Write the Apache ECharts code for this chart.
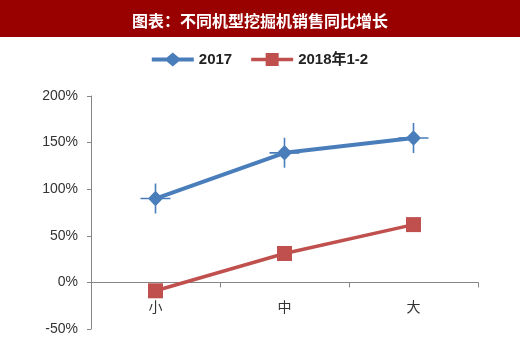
<!DOCTYPE html>
<html><head><meta charset="utf-8">
<script src="https://cdn.jsdelivr.net/npm/echarts@6/dist/echarts.min.js"></script>
<style>html,body{margin:0;padding:0;background:#fff}#c{width:520px;height:348px}</style>
</head><body><div id="c"></div>
<script>
var titleText = '图表：不同机型挖掘机销售同比增长';
var categories = ['小', '中', '大'];
var seriesNames = ['2017', '2018年1-2'];
var values2017 = [90, 139, 155];
var values2018 = [-9, 31, 62];
var yTicks = { min: -50, max: 200, interval: 50 };

var starPath = 'path://M14.2,0L15.8,0L15.8,8L22.5,15L15.8,22L15.8,30L14.2,30L14.2,22L7.5,15L14.2,8Z' +
  'M0,14.2L8.2,14.2L8.2,15.8L0,15.8Z M21.8,14.2L30,14.2L30,15.8L21.8,15.8Z';
var legendBlue = 'path://M0,5L15,5L21,0L27,5L42,5L42,9L27,9L21,14L15,9L0,9Z';
var legendRed = 'path://M0,5.2L14.5,5.2L14.5,0.5L27.5,0.5L27.5,5.2L42,5.2L42,8.8L27.5,8.8L27.5,13.5L14.5,13.5L14.5,8.8L0,8.8Z';

var gridTop = 96, gridBottom = 19, H = 348;
var plotH = H - gridTop - gridBottom;
var zeroOffset = -plotH * (0 - yTicks.min) / (yTicks.max - yTicks.min);

var chart = echarts.init(document.getElementById('c'), null, {renderer: 'canvas'});
chart.setOption({
  animation: false,
  graphic: [
    {type: 'rect', shape: {x: 0, y: 0, width: 520, height: 37}, style: {fill: '#990000'}, z: 0}
  ],
  title: {
    text: titleText, left: 'center', top: 8,
    textStyle: {color: '#fff', fontSize: 16, fontWeight: 'bold', fontFamily: 'Noto Sans CJK SC'}
  },
  legend: {
    top: 47, left: 'center', itemWidth: 42, itemHeight: 14, itemGap: 19,
    textStyle: {fontSize: 15, fontWeight: 'bold', color: '#222', fontFamily: 'Liberation Sans, Noto Sans CJK SC'},
    data: [
      {name: seriesNames[0], icon: legendBlue},
      {name: seriesNames[1], icon: legendRed}
    ]
  },
  grid: {left: 91, right: 42, top: gridTop, bottom: gridBottom, containLabel: false, outerBoundsMode: 'none'},
  xAxis: {
    type: 'category', data: categories,
    offset: zeroOffset,
    axisLine: {onZero: false, lineStyle: {color: '#868686', width: 1}},
    axisTick: {show: true, length: 5, lineStyle: {color: '#868686'}},
    axisLabel: {margin: 17, fontSize: 14, color: '#333', fontFamily: 'Noto Sans CJK SC'}
  },
  yAxis: {
    type: 'value', min: yTicks.min, max: yTicks.max, interval: yTicks.interval,
    axisLine: {show: true, lineStyle: {color: '#868686', width: 1}},
    axisTick: {show: true, length: 4, lineStyle: {color: '#868686'}},
    splitLine: {show: false},
    axisLabel: {formatter: '{value}%', margin: 13, fontSize: 14, color: '#333', fontFamily: 'Liberation Sans'}
  },
  series: [
    {
      name: seriesNames[0], type: 'line', data: values2017,
      symbol: starPath, symbolSize: 30,
      lineStyle: {color: '#4a7ebb', width: 4},
      itemStyle: {color: '#4a7ebb'}
    },
    {
      name: seriesNames[1], type: 'line', data: values2018,
      symbol: 'rect', symbolSize: 15,
      lineStyle: {color: '#c0504d', width: 3.5},
      itemStyle: {color: '#c0504d'}
    }
  ]
});
</script></body></html>
